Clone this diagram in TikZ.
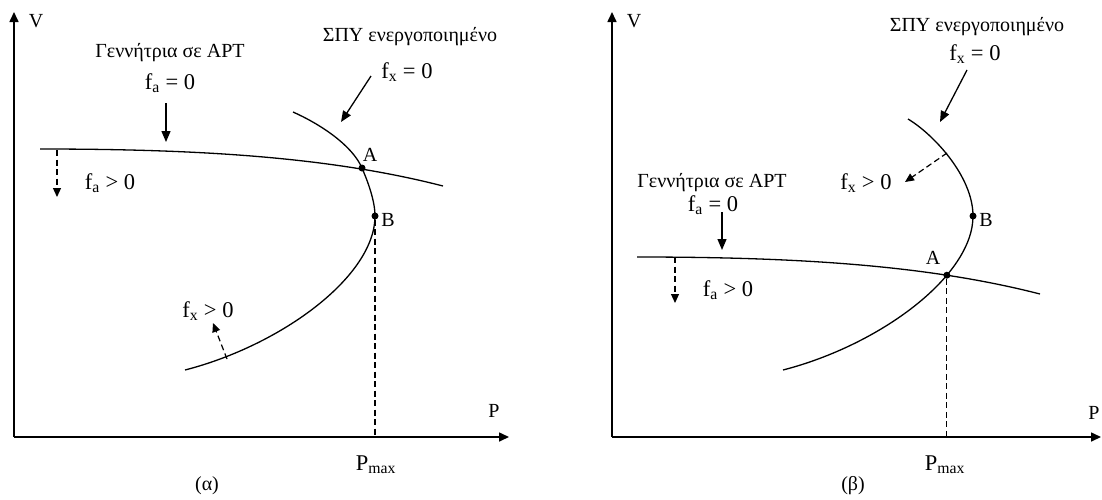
\documentclass[tikz,border=0pt]{standalone}
\usepackage{fontspec}
\setmainfont{Liberation Serif}
\usetikzlibrary{arrows.meta,intersections}
\tikzset{
  axis/.style ={line width=1.6pt, -{Triangle[length=10pt,width=9pt]}},
  curve/.style={line width=1.3pt},
  lead/.style ={line width=1.3pt, -{Triangle[length=11pt,width=9pt]}},
  move/.style ={line width=1.2pt, dash pattern=on 6pt off 3.5pt, -{Triangle[length=9pt,width=8pt]}},
  drop/.style ={line width=1.2pt, dash pattern=on 6pt off 3.5pt},
  lab/.style  ={inner sep=0pt},
  eq/.style   ={inner sep=0pt, font=\fontsize{22.5}{27}\selectfont},
  pt/.style   ={circle, fill, inner sep=0pt, minimum size=7pt},
}

\begin{document}
\begin{tikzpicture}[x=1pt, y=-1pt, font=\fontsize{20}{24}\selectfont]
  \useasboundingbox (0,0) rectangle (1102,499);
  % --- (a) ---
  \coordinate (o1) at (14,437);
  \coordinate (v1) at (14,12);
  \coordinate (p1) at (509,437);
  \draw[axis] (o1) -- (v1);
  \draw[axis] (o1) -- (p1);
  \node[lab] (V1)   at (36,21)   {V};
  \node[lab] (P1)   at (494,411) {P};
  \node[eq]  (Pm1)  at (376,465) {P\textsubscript{max}};
  \node[lab] (cap1) at (207,486) {(α)};

  \coordinate (A1) at (362,168);
  \coordinate (B1) at (375,216);
  \draw[curve] (40,149) .. controls (200,149) and (330,157) .. (443,186);
  \draw[curve] (293,112) .. controls (320,124) and (352,145) .. (A1)
    .. controls (368,182) and (375,201) .. (B1)
    .. controls (375,276) and (282,345) .. (185,370);
  \node[pt] (a1) at (A1) {};
  \node[pt] (b1) at (B1) {};
  \node[lab] (Al1) at (370,155) {A};
  \node[lab] (Bl1) at (388,220) {B};
  \draw[drop] (b1) -- (B1 |- o1);

  \node[lab] (gen1) at (170,53) {Γεννήτρια σε ΑΡΤ};
  \node[eq]  (fa1)  at (170,83) {f\textsubscript{a} = 0};
  \coordinate (fa1s) at (166,103);
  \coordinate (fa1e) at (166,142);
  \draw[lead] (fa1s) -- (fa1e);
  \node[eq]  (fag1) at (110,183) {f\textsubscript{a} > 0};
  \coordinate (fag1s) at (57,150);
  \coordinate (fag1e) at (57,197);
  \draw[move] (fag1s) -- (fag1e);

  \node[lab] (spy1) at (410,37) {ΣΠΥ ενεργοποιημένο};
  \node[eq]  (fx1)  at (407,72) {f\textsubscript{x} = 0};
  \coordinate (fx1s) at (371,76);
  \coordinate (fx1e) at (341,122);
  \draw[lead] (fx1s) -- (fx1e);
  \node[eq]  (fxg1) at (208,311) {f\textsubscript{x} > 0};
  \coordinate (fxg1s) at (227,359);
  \coordinate (fxg1e) at (213,323);
  \draw[move] (fxg1s) -- (fxg1e);

  % --- (b) ---
  \coordinate (o2) at (612,437);
  \coordinate (v2) at (612,12);
  \coordinate (p2) at (1101,437);
  \draw[axis] (o2) -- (v2);
  \draw[axis] (o2) -- (p2);
  \node[lab] (V2)   at (634,21)   {V};
  \node[lab] (P2)   at (1094,413) {P};
  \node[eq]  (Pm2)  at (945,465)  {P\textsubscript{max}};
  \node[lab] (cap2) at (853,486)  {(β)};

  \coordinate (B2) at (973,216);
  \draw[curve, name path=gen2] (637,257) .. controls (797,257) and (927,265) .. (1040,294);
  \draw[curve, name path=spy2] (908,119) .. controls (933,134) and (973,176) .. (B2)
    .. controls (973,276) and (880,345) .. (783,370);
  \path[name intersections={of=gen2 and spy2, by=A2}];
  \node[pt] (a2) at (A2) {};
  \node[pt] (b2) at (B2) {};
  \node[lab] (Al2) at (933,258) {A};
  \node[lab] (Bl2) at (986,220) {B};
  \draw[drop] (a2) -- (A2 |- o2);

  \node[lab] (gen2) at (712,183) {Γεννήτρια σε ΑΡΤ};
  \node[eq]  (fa2)  at (713,205) {f\textsubscript{a} = 0};
  \coordinate (fa2s) at (722,212);
  \coordinate (fa2e) at (722,250);
  \draw[lead] (fa2s) -- (fa2e);
  \node[eq]  (fag2) at (728,290) {f\textsubscript{a} > 0};
  \coordinate (fag2s) at (675,257);
  \coordinate (fag2e) at (675,303);
  \draw[move] (fag2s) -- (fag2e);

  \node[lab] (spy2) at (977,27) {ΣΠΥ ενεργοποιημένο};
  \node[eq]  (fx2)  at (975,54) {f\textsubscript{x} = 0};
  \coordinate (fx2s) at (967,70);
  \coordinate (fx2e) at (940,122);
  \draw[lead] (fx2s) -- (fx2e);
  \node[eq]  (fxg2) at (866,183) {f\textsubscript{x} > 0};
  \coordinate (fxg2s) at (947,153);
  \coordinate (fxg2e) at (905,182);
  \draw[move] (fxg2s) -- (fxg2e);
\end{tikzpicture}
\end{document}
